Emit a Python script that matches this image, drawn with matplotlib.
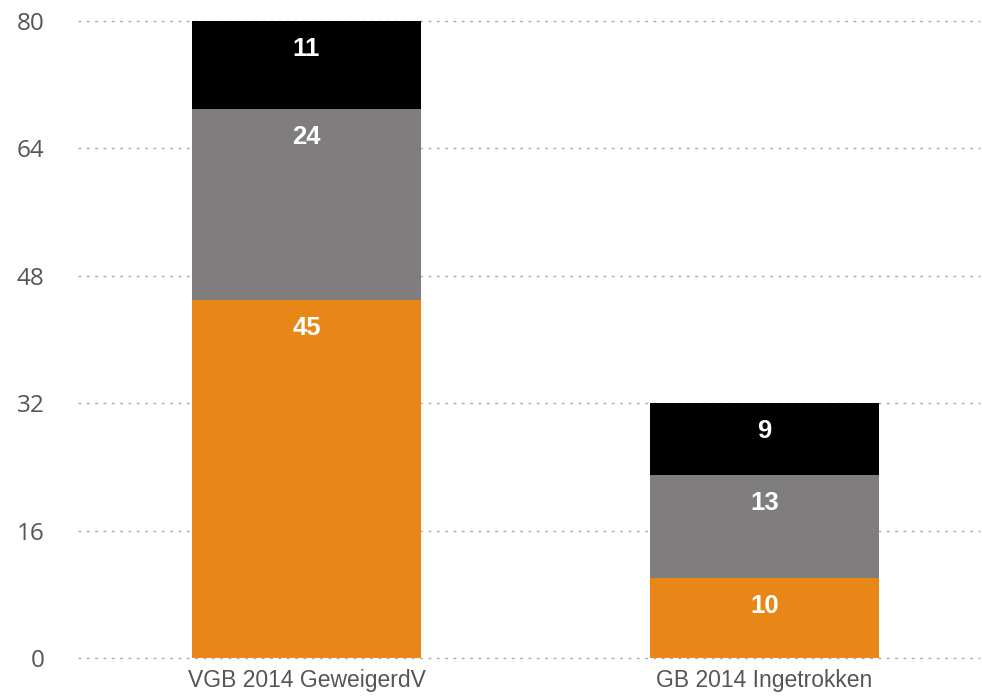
import matplotlib.pyplot as plt
import numpy as np

# data
categories = ["VGB 2014 GeweigerdV", "GB 2014 Ingetrokken"]
orange_vals = [45, 10]
gray_vals = [24, 13]
black_vals = [11, 9]
yticks = [0, 16, 32, 48, 64, 80]

colors = ["#E98618", "#7F7D7D", "#000000"]
series = [orange_vals, gray_vals, black_vals]

fig = plt.figure(figsize=(9.82, 6.96), dpi=100)
ax = fig.add_axes([78 / 982, 38 / 696, 902 / 982, 637 / 696])

x = np.arange(len(categories))
bottom = np.zeros(len(categories))
for vals, col in zip(series, colors):
    vals = np.array(vals, dtype=float)
    ax.bar(x, vals, bottom=bottom, width=0.5, color=col, zorder=3)
    for xi, b, v in zip(x, bottom, vals):
        # label sits a fixed distance under the top of each segment
        ax.annotate(str(int(v)), (xi, b + v), xytext=(0, -28), textcoords="offset pixels",
                    ha="center", va="center", color="white", fontsize=18.5,
                    fontweight="bold", family="Liberation Sans", zorder=4)
    bottom += vals

ax.set_xlim(-0.499, 1.4705)
ax.set_ylim(0, 80)
ax.set_yticks(yticks)
ax.set_yticklabels([str(t) for t in yticks], fontsize=17.5, color="#555555", family="Open Sans")
ax.set_xticks(x)
ax.set_xticklabels(categories, fontsize=16.5, color="#555555", family="Liberation Sans")
ax.tick_params(axis="y", length=0, pad=24)
ax.tick_params(axis="x", length=0, pad=8)

for t in yticks:
    ax.axhline(t, color="#AAAAAA", linestyle=(0, (2, 4)), linewidth=1, zorder=1, clip_on=False)

for s in ax.spines.values():
    s.set_visible(False)

fig.savefig("out.png", dpi=100)
